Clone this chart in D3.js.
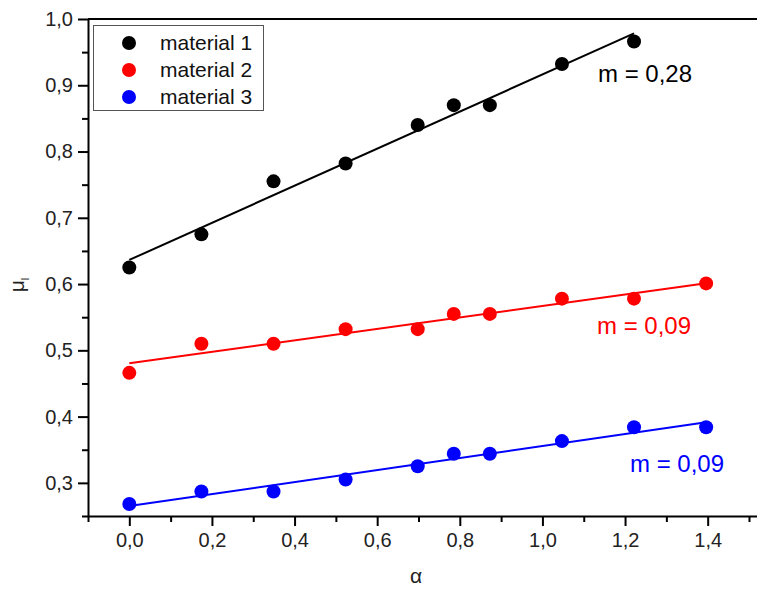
<!DOCTYPE html>
<html>
<head>
<meta charset="utf-8">
<script src="https://cdn.jsdelivr.net/npm/d3@7"></script>
<style>
  body { margin: 0; background: #fff; }
  text { font-family: "Liberation Sans", Arial, sans-serif; }
</style>
</head>
<body>
<script>
// angle values (rad) used for every series
var alphaAll = [0, 0.1745, 0.3491, 0.5236, 0.6981, 0.7854, 0.8727, 1.0472, 1.2217, 1.3963];

var mat1 = [0.625, 0.675, 0.755, 0.782, 0.840, 0.870, 0.870, 0.932, 0.966];
var mat2 = [0.466, 0.510, 0.510, 0.532, 0.532, 0.555, 0.555, 0.578, 0.578, 0.601];
var mat3 = [0.268, 0.287, 0.287, 0.305, 0.325, 0.344, 0.344, 0.363, 0.384, 0.384];

var seriesNames = ["material 1", "material 2", "material 3"];
var seriesColors = ["#000000", "#ff0000", "#0000ff"];
var slopeLabels = ["m = 0,28", "m = 0,09", "m = 0,09"];

var xTicks = [0, 0.2, 0.4, 0.6, 0.8, 1.0, 1.2, 1.4];
var yTicks = [0.3, 0.4, 0.5, 0.6, 0.7, 0.8, 0.9, 1.0];

var w = 757, h = 595;

var svg = d3.select("body").append("svg")
    .attr("width", w)
    .attr("height", h);

var x = d3.scaleLinear().domain([-0.1, 1.6]).range([88, 790.3]);
var y = d3.scaleLinear().domain([0.25, 1.0]).range([516, 19]);

var fmt = function(d){ return d3.format(".1f")(d).replace(".", ","); };

// least squares fit
function fit(xs, ys){
    var n = ys.length;
    var mx = d3.mean(xs.slice(0, n)), my = d3.mean(ys);
    var sxy = 0, sxx = 0;
    for (var i = 0; i < n; i++){
        sxy += (xs[i] - mx) * (ys[i] - my);
        sxx += (xs[i] - mx) * (xs[i] - mx);
    }
    var b = sxy / sxx;
    return { b: b, a: my - b * mx, x0: xs[0], x1: xs[n - 1] };
}

// minor ticks
var xMinor = d3.range(-0.1, 1.6, 0.2);
var yMinor = d3.range(0.25, 1.0, 0.1);

// x axis
svg.append("g")
    .attr("transform", "translate(0,516)")
    .call(d3.axisBottom(x).tickValues(xTicks).tickFormat(fmt).tickSize(10).tickSizeOuter(0).tickPadding(7));
svg.append("g")
    .attr("transform", "translate(0,516)")
    .call(d3.axisBottom(x).tickValues(xMinor).tickFormat("").tickSize(6).tickSizeOuter(0))
    .select(".domain").remove();

// y axis
svg.append("g")
    .attr("transform", "translate(88,0)")
    .call(d3.axisLeft(y).tickValues(yTicks).tickFormat(fmt).tickSize(10).tickSizeOuter(0).tickPadding(5));
svg.append("g")
    .attr("transform", "translate(88,0)")
    .call(d3.axisLeft(y).tickValues(yMinor).tickFormat("").tickSize(6).tickSizeOuter(0))
    .select(".domain").remove();

svg.selectAll(".tick line").attr("stroke", "#000").attr("stroke-width", 2);
svg.selectAll(".domain").attr("stroke", "#000").attr("stroke-width", 2);
svg.selectAll(".tick text")
    .attr("fill", "#222")
    .style("font-size", "20px")
    .style("font-family", "'Liberation Sans', Arial, sans-serif");

// top frame line
svg.append("line")
    .attr("x1", 88).attr("x2", w)
    .attr("y1", 19).attr("y2", 19)
    .attr("stroke", "#000").attr("stroke-width", 2);

// axis titles
svg.append("text")
    .attr("x", 416).attr("y", 583)
    .attr("text-anchor", "middle")
    .style("font-size", "21px")
    .attr("fill", "#222")
    .text("α");

var yLab = svg.append("text")
    .attr("transform", "translate(24,285) rotate(-90)")
    .attr("text-anchor", "middle")
    .style("font-size", "21px")
    .attr("fill", "#222");
yLab.append("tspan").text("μ");
yLab.append("tspan").attr("dy", 5).style("font-size", "11px").text("l");

// series
var data = [mat1, mat2, mat3];

data.forEach(function(vals, k){
    var f = fit(alphaAll, vals);
    svg.append("line")
        .attr("x1", x(f.x0)).attr("y1", y(f.a + f.b * f.x0))
        .attr("x2", x(f.x1)).attr("y2", y(f.a + f.b * f.x1))
        .attr("stroke", seriesColors[k])
        .attr("stroke-width", 2);

    svg.selectAll(".pt" + k)
        .data(vals)
        .enter()
        .append("circle")
        .attr("class", "pt" + k)
        .attr("cx", function(d, i){ return x(alphaAll[i]); })
        .attr("cy", function(d){ return y(d); })
        .attr("r", 7)
        .style("fill", seriesColors[k]);
});

// slope annotations
var annX = [598, 597, 630], annY = [82, 334, 472];
svg.selectAll(".ann")
    .data(slopeLabels)
    .enter()
    .append("text")
    .attr("class", "ann")
    .attr("x", function(d, i){ return annX[i]; })
    .attr("y", function(d, i){ return annY[i]; })
    .style("font-size", "24px")
    .attr("fill", function(d, i){ return seriesColors[i]; })
    .text(function(d){ return d; });

// legend
var legend = svg.append("g");
legend.append("rect")
    .attr("x", 93.5).attr("y", 25.5)
    .attr("width", 170).attr("height", 85)
    .attr("fill", "#fff")
    .attr("stroke", "#555")
    .attr("stroke-width", 1);

seriesNames.forEach(function(name, i){
    legend.append("circle")
        .attr("cx", 129).attr("cy", 43 + i * 27)
        .attr("r", 7)
        .style("fill", seriesColors[i]);
    legend.append("text")
        .attr("x", 160).attr("y", 50 + i * 27)
        .style("font-size", "21px")
        .attr("fill", "#111")
        .text(name);
});
</script>
</body>
</html>
